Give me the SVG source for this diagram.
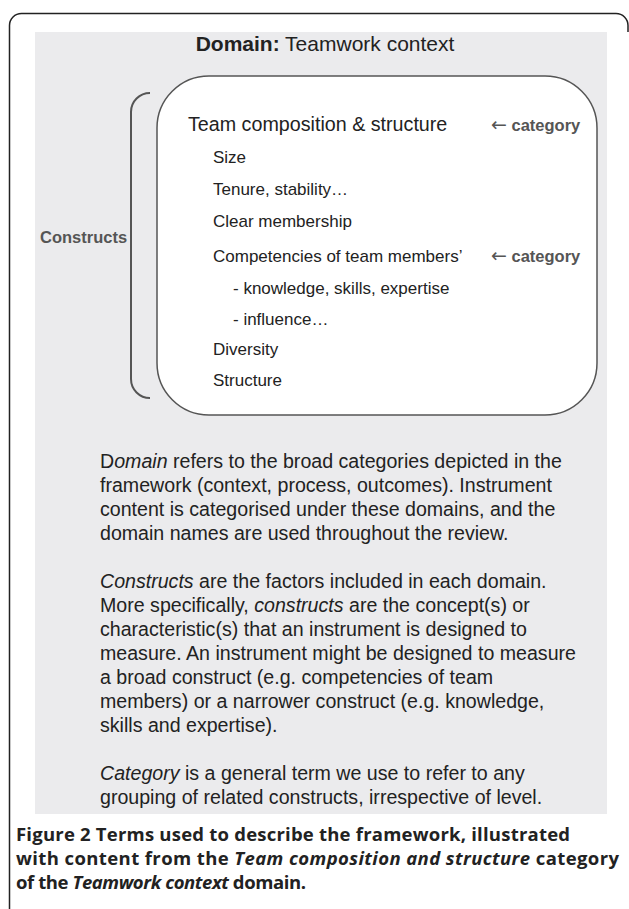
<svg xmlns="http://www.w3.org/2000/svg" width="629" height="909" viewBox="0 0 629 909">
<style>
.sans{font-family:"Liberation Sans",Arial,sans-serif;fill:#222}
.item{font-size:17px}
.para{font-size:19.6px}
.lbl{font-family:"Liberation Sans",Arial,sans-serif;font-weight:bold;fill:#555;font-size:16.5px}
.arr{font-family:"DejaVu Sans",sans-serif;font-weight:normal;font-size:19px}
.cap{font-family:"Open Sans","Noto Sans",sans-serif;font-weight:bold;font-size:18.5px;fill:#222}
</style>
<rect width="629" height="909" fill="#fff"/>
<path d="M9.5,909 V25.5 A12,12 0 0 1 21.5,13.5 H616 A12,12 0 0 1 628,25.5 V32" fill="none" stroke="#222" stroke-width="1.5"/>
<rect x="35" y="32" width="572" height="782" fill="#ebebed"/>
<g id="title"><text class="sans" x="325" y="51" font-size="21" text-anchor="middle"><tspan font-weight="bold">Domain:</tspan> Teamwork context</text></g>
<g id="connectors">
<path d="M150,93 A19,19 0 0 0 131,112 V379 A19,19 0 0 0 150,398" fill="none" stroke="#555" stroke-width="2"/>
</g>
<g id="constructs-label"><text class="lbl" x="40" y="243">Constructs</text></g>
<g id="category-box">
<rect x="157" y="76" width="440" height="339" rx="52" ry="52" fill="#fff" stroke="#555" stroke-width="1.5"/>
<text class="sans" x="188" y="131" font-size="19.7">Team composition &amp; structure</text>
<text class="sans item" x="213" y="163">Size</text>
<text class="sans item" x="213" y="195">Tenure, stability…</text>
<text class="sans item" x="213" y="227">Clear membership</text>
<text class="sans item" x="213" y="262">Competencies of team members’</text>
<text class="sans item" x="233" y="294">- knowledge, skills, expertise</text>
<text class="sans item" x="233" y="325">- influence…</text>
<text class="sans item" x="213" y="355">Diversity</text>
<text class="sans item" x="213" y="386">Structure</text>
<text class="lbl" x="491" y="131"><tspan class="arr">←</tspan> category</text>
<text class="lbl" x="491" y="262"><tspan class="arr">←</tspan> category</text>
</g>
<g id="definitions" class="sans para">
<text x="100" y="468">D<tspan font-style="italic">omain</tspan> refers to the broad categories depicted in the</text>
<text x="100" y="492">framework (context, process, outcomes). Instrument</text>
<text x="100" y="516">content is categorised under these domains, and the</text>
<text x="100" y="540">domain names are used throughout the review.</text>
<text x="100" y="588"><tspan font-style="italic">Constructs</tspan> are the factors included in each domain.</text>
<text x="100" y="612">More specifically, <tspan font-style="italic">constructs</tspan> are the concept(s) or</text>
<text x="100" y="636">characteristic(s) that an instrument is designed to</text>
<text x="100" y="660">measure. An instrument might be designed to measure</text>
<text x="100" y="684">a broad construct (e.g. competencies of team</text>
<text x="100" y="708">members) or a narrower construct (e.g. knowledge,</text>
<text x="100" y="732">skills and expertise).</text>
<text x="100" y="780"><tspan font-style="italic">Category</tspan> is a general term we use to refer to any</text>
<text x="100" y="804">grouping of related constructs, irrespective of level.</text>
</g>
<g id="caption">
<text class="cap" x="16" y="841" textLength="554" lengthAdjust="spacing">Figure 2 Terms used to describe the framework, illustrated</text>
<text class="cap" x="16" y="865" textLength="603" lengthAdjust="spacing">with content from the <tspan font-style="italic">Team composition and structure</tspan> category</text>
<text class="cap" x="16" y="889" textLength="290" lengthAdjust="spacing">of the <tspan font-style="italic">Teamwork context</tspan> domain.</text>
</g>
</svg>
